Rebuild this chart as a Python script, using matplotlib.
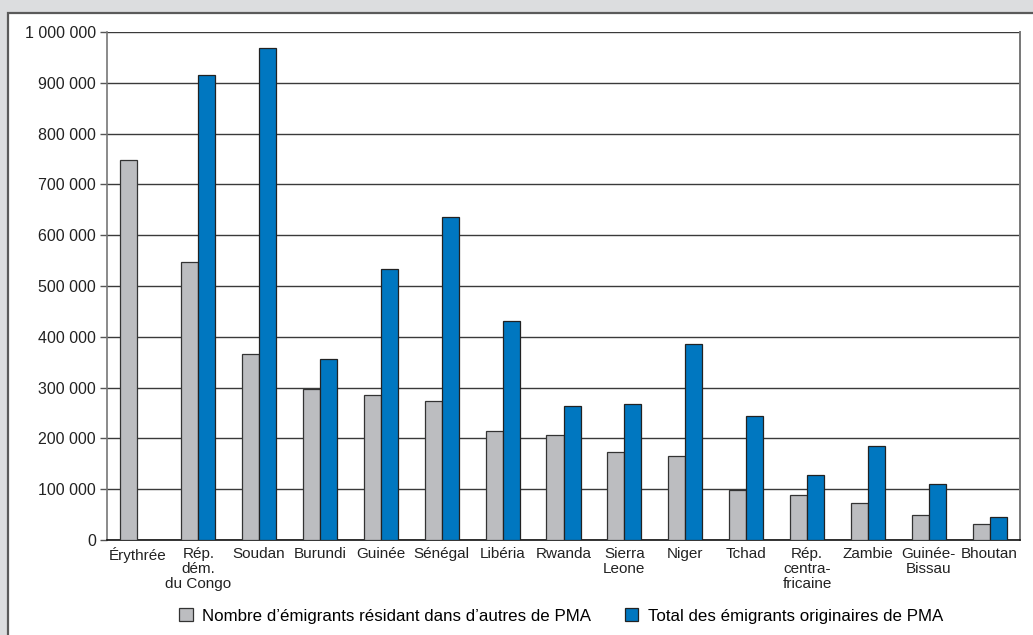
import matplotlib
matplotlib.use("Agg")
import matplotlib.pyplot as plt
import numpy as np
from matplotlib.patches import Rectangle, Patch

plt.rcParams['font.family'] = ['Liberation Sans', 'DejaVu Sans']

countries = ["Érythrée", "Rép.\ndém.\ndu Congo", "Soudan", "Burundi", "Guinée", "Sénégal",
             "Libéria", "Rwanda", "Sierra\nLeone", "Niger", "Tchad", "Rép.\ncentra-\nfricaine",
             "Zambie", "Guinée-\nBissau", "Bhoutan"]
within_pma = [748000, 547000, 366000, 297000, 285000, 274000, 215000, 207000, 173000,
              165000, 98000, 89000, 73000, 49000, 31000]
total_pma = [0, 915000, 968000, 356000, 533000, 636000, 431000, 264000, 268000,
             386000, 244000, 128000, 185000, 110000, 45000]
yticks = [0, 100000, 200000, 300000, 400000, 500000, 600000, 700000, 800000, 900000, 1000000]
ytick_labels = ["0", "100 000", "200 000", "300 000", "400 000", "500 000", "600 000",
                "700 000", "800 000", "900 000", "1 000 000"]
legend_labels = ["Nombre d\u2019émigrants résidant dans d\u2019autres de PMA",
                 "Total des émigrants originaires de PMA"]

gray = "#bcbdc0"
blue = "#0077c0"

fig = plt.figure(figsize=(10.33, 6.35), dpi=100)
fig.patch.set_facecolor("#dcdddf")

# white panel framing the chart
panel = Rectangle((8 / 1033, -0.05), 1.1, 1 - 13 / 635 + 0.05, transform=fig.transFigure,
                  facecolor="white", edgecolor="#5a5a5a", linewidth=1.6, zorder=-10)
fig.patches.append(panel)

ax = fig.add_axes([107 / 1033, 1 - 540 / 635, (1020 - 107) / 1033, (540 - 32) / 635])
ax.set_facecolor("none")

x = np.arange(len(countries))
w = 0.28
ax.bar(x - w / 2, within_pma, w, color=gray, edgecolor="#333333", linewidth=0.9, zorder=3)
blue_vals = np.array(total_pma, dtype=float)
mask = blue_vals > 0
ax.bar(x[mask] + w / 2, blue_vals[mask], w, color=blue, edgecolor="#222222", linewidth=0.9, zorder=3)

ax.set_xlim(-0.5, len(countries) - 0.5)
ax.set_ylim(0, 1000000)
ax.set_yticks(yticks)
ax.set_yticklabels(ytick_labels, fontsize=11.5, color="#222222")
ax.yaxis.grid(True, color="#3a3a3a", linewidth=1.0, zorder=1)
ax.set_axisbelow(True)
ax.tick_params(axis="y", length=5, width=1, color="#555555", pad=3)

ax.set_xticks(x)
ax.set_xticklabels(countries, fontsize=11, color="#222222", linespacing=1.08)
ax.tick_params(axis="x", length=0, pad=5)

ax.spines["top"].set_visible(False)
ax.spines["left"].set_color("#777777")
ax.spines["left"].set_linewidth(1.2)
ax.spines["right"].set_color("#777777")
ax.spines["right"].set_linewidth(1.4)
ax.spines["bottom"].set_color("#111111")
ax.spines["bottom"].set_linewidth(1.2)

handles = [Patch(facecolor=gray, edgecolor="#333333", linewidth=0.9),
           Patch(facecolor=blue, edgecolor="#222222", linewidth=0.9)]
fig.legend(handles, legend_labels, loc="center", bbox_to_anchor=(561 / 1033, 1 - 616 / 635),
           ncol=2, frameon=False, fontsize=12.2, handlelength=0.8, handleheight=0.8,
           handletextpad=0.55, columnspacing=2.0)

fig.savefig("out.png", dpi=100, facecolor=fig.get_facecolor())
